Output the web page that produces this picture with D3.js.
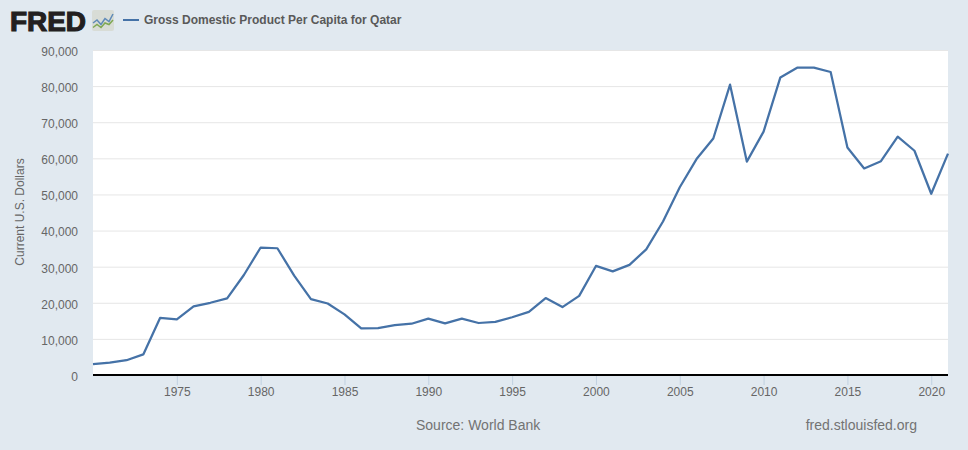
<!DOCTYPE html>
<html>
<head>
<meta charset="utf-8">
<script src="https://cdn.jsdelivr.net/npm/d3@7"></script>
<style>
  html, body { margin: 0; padding: 0; background: #e1e9f0; }
  text { font-family: "Liberation Sans", Arial, sans-serif; }
</style>
</head>
<body>
<div id="chart"></div>
<script>
const seriesName = "Gross Domestic Product Per Capita for Qatar"
const years = [1970,1971,1972,1973,1974,1975,1976,1977,1978,1979,
  1980,1981,1982,1983,1984,1985,1986,1987,1988,1989,
  1990,1991,1992,1993,1994,1995,1996,1997,1998,1999,
  2000,2001,2002,2003,2004,2005,2006,2007,2008,2009,
  2010,2011,2012,2013,2014,2015,2016,2017,2018,2019,
  2020,2021]
const gdpPerCapita = [3000,3400,4100,5700,15800,15400,19000,20000,21200,27700,
  35300,35100,27500,21000,19800,16800,12900,13000,13800,14200,
  15600,14300,15600,14400,14700,16000,17500,21300,18800,21900,
  30200,28700,30500,34800,42500,52000,59800,65500,80400,59100,
  67400,82400,85100,85100,83900,63000,57200,59200,66000,62100,
  50200,61300]
const yTicks = [0,10000,20000,30000,40000,50000,60000,70000,80000,90000]
const xTicks = [1975,1980,1985,1990,1995,2000,2005,2010,2015,2020]
// little logo sparkline, blue and green
const logoBlue = [8,6,9,5,7,2]
const logoGreen = [11,9,11,8,9,6]

const width = 968, height = 450
const plotLeft = 93, plotRight = 948, plotTop = 50, plotBottom = 375
const lineColor = "#4572a7"
const textColor = "#666666"

const svg = d3.select("#chart").append("svg")
  .attr("width", width)
  .attr("height", height)
  .style("display", "block")

const x = d3.scaleLinear().domain([1970, 2021]).range([plotLeft, plotRight])
const y = d3.scaleLinear().domain([0, 90000]).range([plotBottom, plotTop])

svg.append("rect")
  .attr("width", width).attr("height", height)
  .attr("fill", "#e1e9f0")

svg.append("rect")
  .attr("x", plotLeft).attr("y", plotTop)
  .attr("width", plotRight - plotLeft).attr("height", plotBottom - plotTop)
  .attr("fill", "#ffffff")

// gridlines + y labels
const yAxis = d3.axisLeft(y).tickValues(yTicks).tickSize(plotRight - plotLeft)
  .tickFormat(d3.format(","))
const yG = svg.append("g")
  .attr("transform", `translate(${plotRight},0)`)
  .call(yAxis)
yG.select(".domain").remove()
yG.selectAll("line").attr("stroke", "#e6e6e6").attr("stroke-width", 1)
yG.selectAll("text")
  .attr("x", -(plotRight - plotLeft) - 15)
  .attr("dy", "0.32em")
  .attr("transform", "translate(0,1.5)")
  .attr("fill", textColor)
  .style("font-size", "12px")
yG.selectAll(".tick").filter(d => d === 0).select("line").remove()

// x axis
const xAxis = d3.axisBottom(x).tickValues(xTicks).tickSize(10)
  .tickFormat(d3.format("d"))
const xG = svg.append("g")
  .attr("transform", `translate(0,${plotBottom})`)
  .call(xAxis)
xG.select(".domain").remove()
xG.selectAll("line").attr("stroke", "#c0d0e0").attr("stroke-width", 1)
xG.selectAll("text")
  .attr("y", 12)
  .attr("dy", "0.71em")
  .attr("fill", textColor)
  .style("font-size", "12px")

svg.append("line")
  .attr("x1", plotLeft).attr("x2", plotRight)
  .attr("y1", plotBottom).attr("y2", plotBottom)
  .attr("stroke", "#000000").attr("stroke-width", 2)

// the series
const line = d3.line()
  .x(d => x(d[0]))
  .y(d => y(d[1]))

svg.append("path")
  .datum(d3.zip(years, gdpPerCapita))
  .attr("d", line)
  .attr("fill", "none")
  .attr("stroke", lineColor)
  .attr("stroke-width", 2.25)
  .attr("stroke-linejoin", "round")

// y title
svg.append("text")
  .attr("transform", "translate(24,212) rotate(-90)")
  .attr("text-anchor", "middle")
  .attr("fill", textColor)
  .style("font-size", "12px")
  .text("Current U.S. Dollars")

// legend
svg.append("line")
  .attr("x1", 123).attr("x2", 139)
  .attr("y1", 20).attr("y2", 20)
  .attr("stroke", lineColor).attr("stroke-width", 2)

svg.append("text")
  .attr("x", 144).attr("y", 24)
  .attr("fill", "#595959")
  .style("font-size", "12px")
  .style("font-weight", "bold")
  .text(seriesName)

// logo
svg.append("text")
  .attr("x", 10).attr("y", 30.5)
  .attr("textLength", 76)
  .attr("lengthAdjust", "spacingAndGlyphs")
  .attr("fill", "#231f20")
  .attr("stroke", "#231f20")
  .attr("stroke-width", 1.2)
  .style("font-size", "28px")
  .style("font-weight", "bold")
  .text("FRED")

svg.append("rect")
  .attr("x", 92).attr("y", 10)
  .attr("width", 22).attr("height", 21)
  .attr("rx", 2)
  .attr("fill", "#d8dcd6")

const logoX = d3.scaleLinear().domain([0, logoBlue.length - 1]).range([93, 113])
const logoY = d3.scaleLinear().domain([0, 12]).range([11, 29])
const logoLine = d3.line().x((d, i) => logoX(i)).y(d => logoY(d))

svg.append("path").attr("d", logoLine(logoBlue))
  .attr("fill", "none").attr("stroke", "#5f8ab8").attr("stroke-width", 1.5)
svg.append("path").attr("d", logoLine(logoGreen))
  .attr("fill", "none").attr("stroke", "#7fa854").attr("stroke-width", 1.5)

// footer
svg.append("text")
  .attr("x", 416).attr("y", 430)
  .attr("fill", "#737373")
  .style("font-size", "14px")
  .text("Source: World Bank")

svg.append("text")
  .attr("x", 917).attr("y", 430)
  .attr("text-anchor", "end")
  .attr("fill", "#737373")
  .style("font-size", "14px")
  .text("fred.stlouisfed.org")
</script>
</body>
</html>
